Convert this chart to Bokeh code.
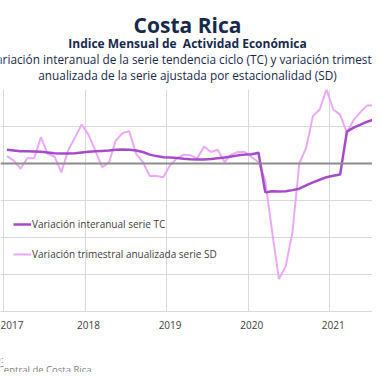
from bokeh.plotting import figure
from bokeh.layouts import column
from bokeh.models import (Range1d, FixedTicker, Span, Label, Legend, LegendItem,
                          NumeralTickFormatter, ColumnDataSource)
from bokeh.embed import file_html
from bokeh.resources import INLINE

# ---- data (monthly, from Jan 2017) ----
start_year = 2017
tc = [3.7, 3.5, 3.3, 3.3, 3.25, 3.2, 3.0, 2.8, 2.7, 2.7, 2.8, 3.0,
      3.2, 3.3, 3.4, 3.5, 3.7, 3.8, 3.7, 3.5, 3.1, 2.4, 2.0, 1.7,
      1.6, 1.5, 1.3, 1.15, 1.1, 1.1, 1.2, 1.4, 1.6, 1.9, 2.2, 2.4,
      2.5, 2.9, -7.8, -7.5, -7.6, -7.5, -7.2, -6.8, -5.9, -5.1, -4.4, -3.7,
      -3.3, -3.0, 8.6, 9.7, 10.5, 11.3, 11.9, 12.1]
sd = [2.0, 0.8, -1.4, 1.4, 1.4, 7.1, 2.6, 1.9, -2.4, 3.5, 7.0, 10.5,
      7.8, 3.5, -1.0, 0.2, 6.2, 8.2, 8.7, 2.6, 0.4, -3.4, -3.4, -3.7,
      -0.5, 1.4, 2.4, 2.2, 1.4, 4.6, 3.1, 3.7, 0.4, 2.4, 3.1, 3.1,
      1.7, 0.4, -4.6, -18.4, -31.2, -27.8, -18.5, 0.0, 4.2, 12.8, 14.6, 20.0,
      14.6, 13.2, 8.3, 11.8, 13.9, 15.7, 15.7, 12.3]
year_ticks = [2017, 2018, 2019, 2020, 2021]
series_names = ["Variación interanual serie TC",
                "Variación trimestral anualizada serie SD"]
title = "Costa Rica"
subtitle = "Indice Mensual de\u00a0 Actividad Económica"
desc1 = "Variación interanual de la serie tendencia ciclo (TC) y variación trimestral"
desc2 = "anualizada de la serie ajustada por estacionalidad (SD)"
source_lbl = "Fuente:"
source_txt = "Banco Central de Costa Rica"

x = [start_year + (i + 0.5) / 12 for i in range(len(tc))]
src = ColumnDataSource(dict(x=x, tc=tc, sd=sd))

FONT = "Open Sans"
NAVY = "#17294b"
C_TC = "#a64ac9"
C_SD = "#eaa9f8"
W = 372
PX_YEAR = 81.6

def blank(h):
    f = figure(width=W, height=h, output_backend="svg", toolbar_location=None,
               x_range=Range1d(0, W), y_range=Range1d(h, 0),
               min_border=0, background_fill_color="white",
               border_fill_color="white")
    f.axis.visible = False
    f.grid.visible = False
    f.outline_line_color = None
    return f

def lab(f, text, x0, y0, size, bold=False, color=NAVY, align="center"):
    f.add_layout(Label(x=x0, y=y0, text=text, text_font=FONT, text_font_size=size,
                       text_font_style="bold" if bold else "normal",
                       text_color=color, text_align=align,
                       text_baseline="alphabetic"))

# ---- header ----
HEAD = 89
head = blank(HEAD)
lab(head, title, 187, 24, "21px", bold=True)
lab(head, subtitle, 187, 43, "12px", bold=True)
lab(head, desc1, 187, 58, "11.8px")
lab(head, desc2, 187, 74, "11.8px")

# ---- main chart ----
FRAME_H = 222
BOT = 34
p = figure(width=W, height=FRAME_H + BOT, output_backend="svg", toolbar_location=None,
           x_range=Range1d(2017 - 3 / PX_YEAR, 2017 + (W - 3) / PX_YEAR),
           y_range=Range1d(-40, 20),
           min_border_left=0, min_border_right=0,
           min_border_top=0, min_border_bottom=BOT,
           background_fill_color="white", border_fill_color="white")
p.outline_line_color = None

p.yaxis.visible = False
p.ygrid.ticker = FixedTicker(ticks=[-40, -30, -20, -10, 0, 10, 20])
p.ygrid.grid_line_color = "#d9d9d9"
p.xgrid.ticker = FixedTicker(ticks=year_ticks)
p.xgrid.grid_line_color = "#d9d9d9"

xa = p.xaxis[0]
xa.ticker = FixedTicker(ticks=[yv + 0.5 / 12 for yv in year_ticks])
xa.formatter = NumeralTickFormatter(format="0")
xa.axis_line_color = "#d9d9d9"
xa.major_tick_line_color = None
xa.minor_tick_line_color = None
xa.major_label_text_font = FONT
xa.major_label_text_font_size = "10px"
xa.major_label_text_color = "#404040"
xa.major_label_standoff = 3

p.add_layout(Span(location=0, dimension="width", line_color="#8c8c8c", line_width=2))

r_sd = p.line("x", "sd", source=src, line_color=C_SD, line_width=2)
r_tc = p.line("x", "tc", source=src, line_color=C_TC, line_width=2.5)

legend = Legend(items=[LegendItem(label=series_names[0], renderers=[r_tc]),
                       LegendItem(label=series_names[1], renderers=[r_sd])],
                location=(13, 47), orientation="vertical",
                padding=0, margin=0, spacing=10, label_standoff=1,
                glyph_width=18, glyph_height=20, label_height=20,
                border_line_color=None, background_fill_alpha=0,
                label_text_font=FONT, label_text_font_size="10px",
                label_text_color="#404040")
p.add_layout(legend)

# ---- footer ----
FOOT = 372 - HEAD - FRAME_H - BOT
foot = blank(FOOT)
top_f = HEAD + FRAME_H + BOT
lab(foot, source_lbl, 3, 359 - top_f, "9.5px", color="#7f7f7f", align="right")
lab(foot, source_txt, 91, 369 - top_f, "9.5px", color="#7f7f7f", align="right")

layout = column(head, p, foot, spacing=0)
open("out.html", "w").write(file_html(layout, INLINE))
